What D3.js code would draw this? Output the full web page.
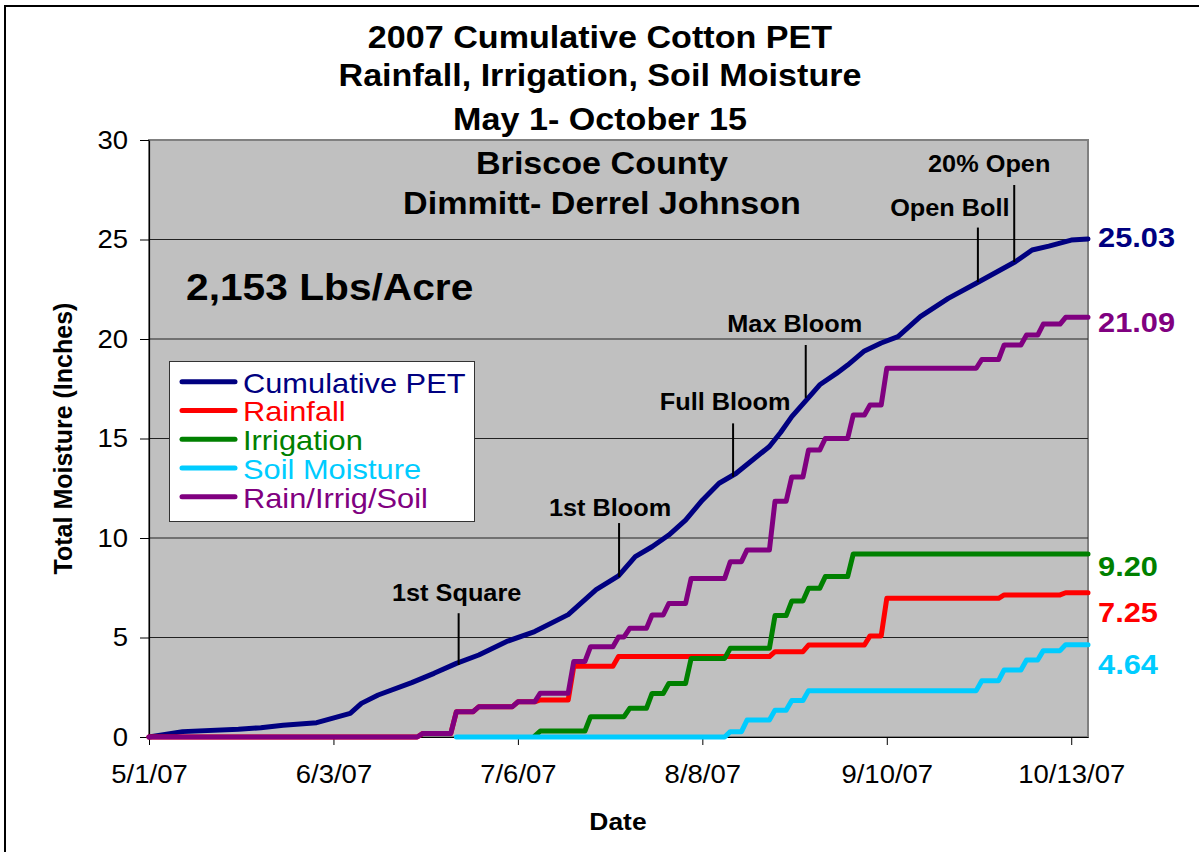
<!DOCTYPE html>
<html>
<head>
<meta charset="utf-8">
<script src="https://cdn.jsdelivr.net/npm/d3@7"></script>
<style>
  body { margin: 0; background: #fff; }
  text { font-family: "Liberation Sans", Arial, Helvetica, sans-serif; }
</style>
</head>
<body>
<div id="chart"></div>
<script>
// ---- data (day = days since 5/1/07, value = inches) ----
var seriesNames = ["Cumulative PET", "Rainfall", "Irrigation", "Soil Moisture", "Rain/Irrig/Soil"];

var petPoints = [[0,0],[6,0.27],[16,0.39],[20,0.47],[24,0.59],[30,0.72],[36,1.19],[38,1.69],[41,2.11],
  [47,2.73],[51,3.2],[55,3.7],[59,4.12],[64,4.8],[69,5.3],[75,6.15],[80,7.4],[84,8.1],[87,9.06],
  [90,9.56],[93,10.15],[96,10.9],[99,11.9],[102,12.75],[105,13.24],[111,14.6],[113,15.3],[115,16.1],
  [118,17.05],[120,17.7],[123,18.27],[125,18.69],[128,19.4],[131,19.8],[134,20.12],[138,21.12],
  [143,22.04],[148,22.8],[155,23.88],[158,24.47],[161,24.67],[165,24.97],[168,25.03]];

var rainfallPoints = [[0,0],[48,0],[49,0.18],[54,0.18],[55,1.27],[58,1.27],[59,1.52],[65,1.52],[66,1.77],
  [69,1.77],[70,1.86],[75,1.86],[76,3.55],[83,3.55],[84,4.04],[111,4.04],[112,4.29],[117,4.29],
  [118,4.62],[128,4.62],[129,5.08],[131,5.08],[132,6.97],[152,6.97],[153,7.14],[163,7.14],[164,7.25],[168,7.25]];

var irrigationPoints = [[69,0.05],[70,0.3],[78,0.3],[79,1.02],[85,1.02],[86,1.44],[89,1.44],[90,2.19],
  [92,2.19],[93,2.69],[96,2.69],[97,3.95],[103,3.95],[104,4.46],[111,4.46],[112,6.1],[114,6.1],
  [115,6.83],[117,6.83],[118,7.47],[120,7.47],[121,8.06],[125,8.06],[126,9.2],[168,9.2]];

var soilPoints = [[55,0],[103,0],[104,0.27],[106,0.27],[107,0.85],[111,0.85],[112,1.35],[114,1.35],
  [115,1.83],[117,1.83],[118,2.33],[148,2.33],[149,2.83],[152,2.83],[153,3.37],[156,3.37],
  [157,3.87],[159,3.87],[160,4.34],[163,4.34],[164,4.64],[168,4.64]];

var totalPoints = [[0,0],[48,0],[49,0.18],[54,0.18],[55,1.27],[58,1.27],[59,1.52],[65,1.52],[66,1.77],
  [69,1.77],[70,2.2],[75,2.2],[76,3.8],[78,3.8],[79,4.54],[83,4.54],[84,5.03],[85,5.03],[86,5.46],
  [89,5.46],[90,6.13],[92,6.13],[93,6.71],[96,6.71],[97,7.97],[103,7.97],[104,8.81],[106,8.81],
  [107,9.4],[111,9.4],[112,11.85],[114,11.85],[115,13.07],[117,13.07],[118,14.42],[120,14.42],
  [121,15.0],[125,15.0],[126,16.18],[128,16.18],[129,16.68],[131,16.68],[132,18.53],[148,18.53],
  [149,18.97],[152,18.97],[153,19.7],[156,19.7],[157,20.2],[159,20.2],[160,20.75],[163,20.75],
  [164,21.09],[168,21.09]];

var endValues = [25.03, 7.25, 9.20, 4.64, 21.09];

var tickDates = ["2007-05-01", "2007-06-03", "2007-07-06", "2007-08-08", "2007-09-10", "2007-10-13"];
var yTicks = [0, 5, 10, 15, 20, 25, 30];

// crop stages marked on the PET line
var stageLabels = ["1st Square", "1st Bloom", "Full Bloom", "Max Bloom", "Open Boll", "20% Open"];
var stageDays   = [55.4, 84.1, 104.5, 117.5, 148.3, 154.8];
var stageFrom   = [3.62, 8.04, 13.08, 17.04, 22.86, 23.87];
var stageTo     = [6.22, 10.75, 15.76, 19.7, 25.6, 27.74];

var titleLines = ["2007 Cumulative Cotton PET", "Rainfall, Irrigation, Soil Moisture", "May 1- October 15"];
var subtitleLines = ["Briscoe County", "Dimmitt- Derrel Johnson"];
var yieldText = "2,153 Lbs/Acre";

// ---- layout / style ----
var width = 1199, height = 852;
var plot = { left: 149, right: 1088, top: 140, bottom: 737 };
var colors = ["#000080", "#FF0000", "#008000", "#00CCFF", "#800080"];
var endLabelDy = [8.4, 29, 22, 29.3, 14.4];
var stageDx = [-2, -9, -8, -11, -28, -25];
var stageDy = [-12, -7, -13, -13, -12, -13];
var SX = 1.1;   // text in the original is a bit wider than plain Arial

var seasonStart = new Date(2007, 4, 1);
var seasonEnd = new Date(2007, 9, 16);
var toDate = function(d) { return new Date(seasonStart.getTime() + d * 864e5); };
var parseDay = d3.timeParse("%Y-%m-%d");

var x = d3.scaleTime().domain([seasonStart, seasonEnd]).range([plot.left, plot.right]);
var y = d3.scaleLinear().domain([0, 30]).range([plot.bottom, plot.top]);

function stretch(sel, k) {
  sel.each(function() {
    var w = this.getComputedTextLength();
    d3.select(this).attr("textLength", w * k).attr("lengthAdjust", "spacingAndGlyphs");
  });
}

var svg = d3.select("#chart").append("svg")
  .attr("width", width)
  .attr("height", height);

svg.append("rect").attr("width", width).attr("height", height).attr("fill", "#fff");

// outer chart border (right/bottom edges fall outside the picture)
svg.append("rect")
  .attr("x", 5).attr("y", 6)
  .attr("width", 1210).attr("height", 860)
  .attr("fill", "none").attr("stroke", "#000").attr("stroke-width", 2);

// plot area
svg.append("rect")
  .attr("x", plot.left).attr("y", plot.top)
  .attr("width", plot.right - plot.left).attr("height", plot.bottom - plot.top)
  .attr("fill", "#C0C0C0").attr("stroke", "#808080").attr("stroke-width", 2);

svg.append("g").attr("class", "grid")
  .selectAll("line").data(yTicks.filter(function(v) { return v > 0 && v < 30; }))
  .enter().append("line")
    .attr("x1", plot.left).attr("x2", plot.right)
    .attr("y1", function(d) { return y(d); }).attr("y2", function(d) { return y(d); })
    .attr("stroke", "#222").attr("stroke-width", 1);

// axes
var xAxis = d3.axisBottom(x)
  .tickValues(tickDates.map(parseDay))
  .tickFormat(d3.timeFormat("%-m/%-d/%y"))
  .tickSizeInner(8).tickSizeOuter(0).tickPadding(20);

var yAxis = d3.axisLeft(y)
  .tickValues(yTicks)
  .tickSizeInner(9).tickSizeOuter(0).tickPadding(12);

var gx = svg.append("g").attr("transform", "translate(0," + plot.bottom + ")").call(xAxis);
var gy = svg.append("g").attr("transform", "translate(" + plot.left + ",0)").call(yAxis);

[gx, gy].forEach(function(g) {
  g.select(".domain").attr("stroke", "#000").attr("stroke-width", 1.2);
  g.selectAll(".tick line").attr("stroke", "#000");
  g.selectAll(".tick text")
    .attr("fill", "#000")
    .style("font-size", "25px")
    .style("font-family", "\"Liberation Sans\", Arial, sans-serif");
});
gy.select(".tick:last-of-type line").attr("stroke", "#000");
stretch(gx.selectAll(".tick text"), SX);
stretch(gy.selectAll(".tick text"), SX);

// series lines
var allPoints = [petPoints, rainfallPoints, irrigationPoints, soilPoints, totalPoints];
var line = d3.line()
  .x(function(d) { return x(toDate(d[0])); })
  .y(function(d) { return y(d[1]); });

svg.append("g").attr("class", "series")
  .selectAll("path").data(allPoints)
  .enter().append("path")
    .attr("d", line)
    .attr("fill", "none")
    .attr("stroke", function(d, i) { return colors[i]; })
    .attr("stroke-width", 5)
    .attr("stroke-linejoin", "round")
    .attr("stroke-linecap", "round");

// end-of-season values
svg.append("g").attr("class", "end-labels")
  .selectAll("text").data(endValues)
  .enter().append("text")
    .attr("x", plot.right + 10)
    .attr("y", function(d, i) { return y(d) + endLabelDy[i]; })
    .attr("fill", function(d, i) { return colors[i]; })
    .style("font-size", "28px").style("font-weight", "bold")
    .text(function(d) { return d3.format(".2f")(d); })
    .call(stretch, SX);

// crop stage markers
var stages = svg.append("g").attr("class", "stages")
  .selectAll("g").data(stageLabels)
  .enter().append("g");

stages.append("line")
  .attr("x1", function(d, i) { return x(toDate(stageDays[i])); })
  .attr("x2", function(d, i) { return x(toDate(stageDays[i])); })
  .attr("y1", function(d, i) { return y(stageFrom[i]); })
  .attr("y2", function(d, i) { return y(stageTo[i]); })
  .attr("stroke", "#000").attr("stroke-width", 2);

stages.append("text")
  .attr("x", function(d, i) { return x(toDate(stageDays[i])) + stageDx[i]; })
  .attr("y", function(d, i) { return y(stageTo[i]) + stageDy[i]; })
  .attr("text-anchor", "middle")
  .style("font-size", "23px").style("font-weight", "bold")
  .text(function(d) { return d; })
  .call(stretch, SX);

// titles
svg.append("g").selectAll("text").data(titleLines)
  .enter().append("text")
    .attr("x", 600)
    .attr("y", function(d, i) { return [48, 86, 130][i]; })
    .attr("text-anchor", "middle")
    .style("font-size", "31px").style("font-weight", "bold")
    .text(function(d) { return d; })
    .call(stretch, SX);

svg.append("g").selectAll("text").data(subtitleLines)
  .enter().append("text")
    .attr("x", 602)
    .attr("y", function(d, i) { return [174, 214][i]; })
    .attr("text-anchor", "middle")
    .style("font-size", "31px").style("font-weight", "bold")
    .text(function(d) { return d; })
    .call(stretch, SX);

svg.append("text")
  .attr("x", 186).attr("y", 300)
  .style("font-size", "37px").style("font-weight", "bold")
  .text(yieldText)
  .call(stretch, SX);

// axis titles
svg.append("text")
  .attr("x", 618).attr("y", 830)
  .attr("text-anchor", "middle")
  .style("font-size", "24px").style("font-weight", "bold")
  .text("Date")
  .call(stretch, SX);

svg.append("text")
  .attr("transform", "translate(72," + ((plot.top + plot.bottom) / 2) + ") rotate(-90)")
  .attr("text-anchor", "middle")
  .style("font-size", "25px").style("font-weight", "bold")
  .text("Total Moisture (Inches)");

// legend
var legend = svg.append("g").attr("class", "legend");
legend.append("rect")
  .attr("x", 169.5).attr("y", 361.5)
  .attr("width", 305).attr("height", 160)
  .attr("fill", "#fff").attr("stroke", "#333").attr("stroke-width", 1);

var items = legend.selectAll("g.item").data(seriesNames)
  .enter().append("g")
    .attr("class", "item")
    .attr("transform", function(d, i) { return "translate(0," + (381.7 + i * 28.75) + ")"; });

items.append("line")
  .attr("x1", 182).attr("x2", 235)
  .attr("stroke", function(d, i) { return colors[i]; })
  .attr("stroke-width", 5)
  .attr("stroke-linecap", "round");

items.append("text")
  .attr("x", 243).attr("y", 11)
  .attr("fill", function(d, i) { return colors[i]; })
  .style("font-size", "28px")
  .text(function(d) { return d; })
  .call(stretch, SX);
</script>
</body>
</html>
